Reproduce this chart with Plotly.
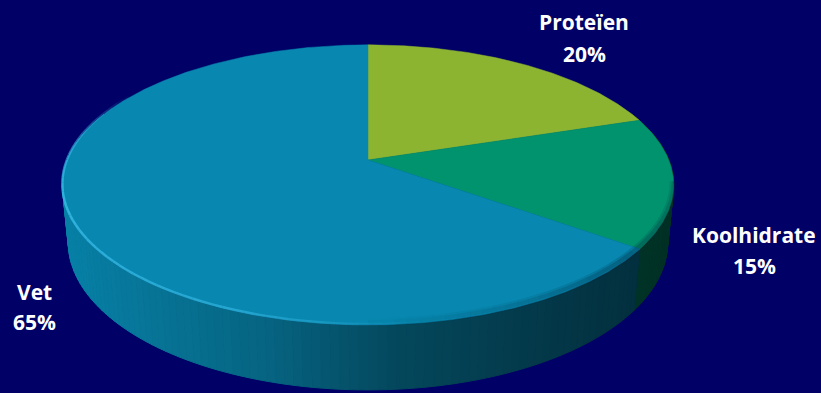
import numpy as np
import plotly.graph_objects as go

# ---- data ----
labels = ["Proteïen", "Koolhidrate", "Vet"]
values = [20, 15, 65]
top_colors = [(141, 180, 49), (0, 147, 110), (8, 136, 176)]
bg = "#000066"

# ---- 3D perspective pie geometry (screen pixels) ----
CX, CY = 368.0, 160.0
ALPHA = np.radians(26.8)
S, C = np.sin(ALPHA), np.cos(ALPHA)
D = 5.02
F = 1510.0
H = 0.2155


def proj(theta_deg, z):
    t = np.radians(theta_deg)
    X = np.sin(t)
    Y = np.cos(t)
    d = D + Y * C - z * S
    v = Y * S + z * C
    return CX + F * X / d, CY - F * v / d


def shade(x):
    return np.interp(x, [60, 270, 400, 550, 673], [0.95, 0.73, 0.52, 0.41, 0.33])


def rgb(c, k=1.0, a=None):
    r, g, b = [int(max(0, min(255, round(v * k)))) for v in c]
    if a is None:
        return f"rgb({r},{g},{b})"
    return f"rgba({r},{g},{b},{a})"


fig = go.Figure()

total = float(sum(values))
bounds = np.concatenate([[0], np.cumsum(values) / total * 360.0])

# ---- sides ----
quads = []
for i in range(len(values)):
    a0, a1 = bounds[i], bounds[i + 1]
    n = max(2, int((a1 - a0) / 1.5))
    ts = np.linspace(a0, a1, n + 1)
    for j in range(n):
        t0, t1 = ts[j], ts[j + 1]
        tm = 0.5 * (t0 + t1)
        if np.cos(np.radians(tm)) > 0.35:
            continue
        x0t, y0t = proj(t0, 0)
        x1t, y1t = proj(t1, 0)
        x1b, y1b = proj(t1, -H)
        x0b, y0b = proj(t0, -H)
        xm = 0.5 * (x0t + x1t)
        quads.append((np.cos(np.radians(tm)),
                      [x0t, x1t, x1b, x0b, x0t],
                      [y0t, y1t, y1b, y0b, y0t],
                      rgb(top_colors[i], shade(xm))))
quads.sort(key=lambda q: -q[0])
for _, xs, ys, col in quads:
    fig.add_trace(go.Scatter(x=xs, y=ys, mode="lines", fill="toself",
                             fillcolor=col, line=dict(color=col, width=1),
                             hoverinfo="skip", showlegend=False))

# ---- top faces ----
for i in range(len(values)):
    a0, a1 = bounds[i], bounds[i + 1]
    ts = np.linspace(a0, a1, max(3, int((a1 - a0) * 2)))
    px, py = proj(ts, 0)
    xs = np.concatenate([[CX], px, [CX]])
    ys = np.concatenate([[CY], py, [CY]])
    col = rgb(top_colors[i])
    fig.add_trace(go.Scatter(x=xs, y=ys, mode="lines", fill="toself",
                             fillcolor=col, line=dict(color=col, width=0.5),
                             hoverinfo="skip", showlegend=False))

# ---- rim shadow (front right), soft ----
ts = np.linspace(100, 180, 40)
for w, base in ((8, 0.18), (4, 0.25)):
    for j in range(len(ts) - 1):
        xs, ys = proj(ts[j:j + 2], 0)
        op = base * np.interp(ts[j], [100, 130, 180], [0.6, 1.0, 0.0])
        fig.add_trace(go.Scatter(x=xs, y=ys - 3, mode="lines",
                                 line=dict(color=f"rgba(0,40,60,{op:.2f})", width=w),
                                 hoverinfo="skip", showlegend=False))

# ---- rim highlight (front left) ----
ts = np.linspace(170, 300, 70)
for j in range(len(ts) - 1):
    xs, ys = proj(ts[j:j + 2], 0)
    op = np.interp(ts[j], [170, 200, 250, 275, 300], [0.0, 0.55, 0.8, 0.6, 0.0])
    fig.add_trace(go.Scatter(x=xs, y=ys - 1, mode="lines",
                             line=dict(color=f"rgba(60,190,235,{op:.2f})", width=2.5),
                             hoverinfo="skip", showlegend=False))

# ---- labels ----
label_pos = [(584, 22, 54), (754, 235, 266), (34, 292, 322)]
for i, (lx, ly1, ly2) in enumerate(label_pos):
    pct = f"{round(values[i] / total * 100)}%"
    for txt, ly in ((labels[i], ly1), (pct, ly2)):
        fig.add_annotation(x=lx, y=ly, text=f"<b>{txt}</b>", showarrow=False,
                           xanchor="center", yanchor="middle",
                           font=dict(family="Open Sans", size=21, color="white"))

fig.update_layout(
    width=821, height=393,
    margin=dict(l=0, r=0, t=0, b=0),
    paper_bgcolor=bg, plot_bgcolor=bg,
    showlegend=False, hovermode=False,
    xaxis=dict(range=[0, 821], visible=False, fixedrange=True),
    yaxis=dict(range=[393, 0], visible=False, fixedrange=True),
)

fig.write_html("out.html")
